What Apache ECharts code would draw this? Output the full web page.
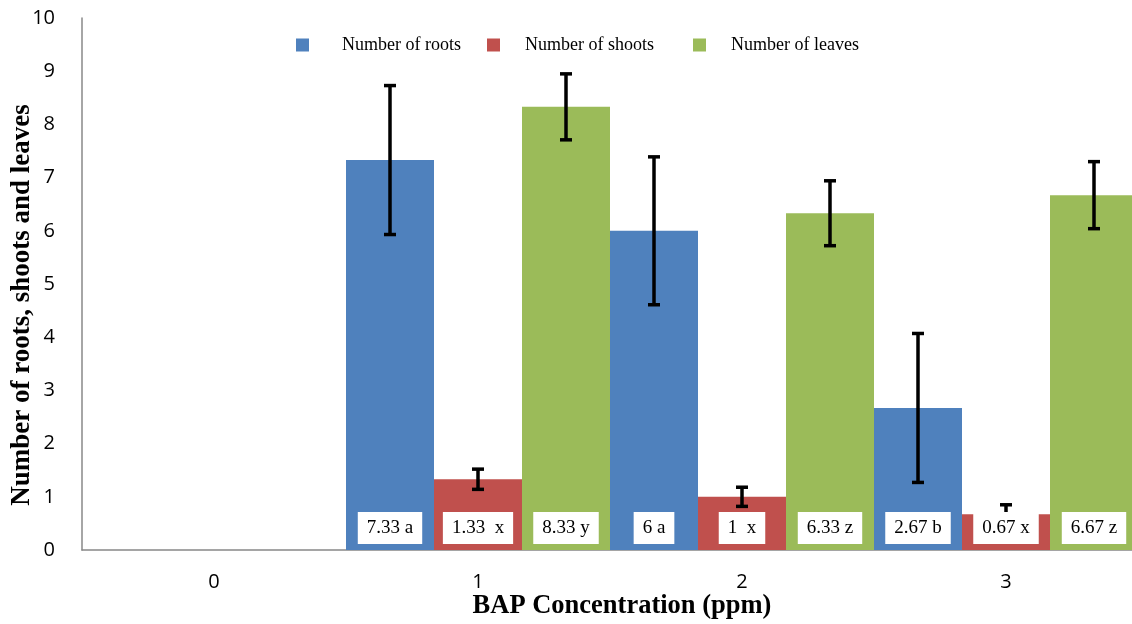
<!DOCTYPE html>
<html><head><meta charset="utf-8">
<script src="https://cdn.jsdelivr.net/npm/echarts@6/dist/echarts.min.js"></script>
<style>html,body{margin:0;padding:0;background:#fff;overflow:hidden}#c{width:1138px;height:624px}</style>
</head><body><div id="c"></div>
<script>
const categories = ['0', '1', '2', '3'];
const seriesNames = ['Number of roots', 'Number of shoots', 'Number of leaves'];
const roots = [0, 7.33, 6, 2.67];
const shoots = [0, 1.33, 1, 0.67];
const leaves = [0, 8.33, 6.33, 6.67];
const rootsErr = [0, 1.4, 1.39, 1.4];
const shootsErr = [0, 0.19, 0.18, 0.18];
const leavesErr = [0, 0.62, 0.61, 0.63];
const rootsLabels = ['', '7.33 a', '6 a', '2.67 b'];
const shootsLabels = ['', '1.33  x', '1  x', '0.67 x'];
const leavesLabels = ['', '8.33 y', '6.33 z', '6.67 z'];
const yTicks = [0, 1, 2, 3, 4, 5, 6, 7, 8, 9, 10];

const colors = ['#4F81BD', '#C0504D', '#9BBB59'];
const values = [roots, shoots, leaves];
const errs = [rootsErr, shootsErr, leavesErr];
const labels = [rootsLabels, shootsLabels, leavesLabels];

const chart = echarts.init(document.getElementById('c'));

function errSeries(k) {
  return {
    type: 'custom', z: 5, silent: true, clip: false,
    data: values[k].map((v, i) => [i, v, errs[k][i]]),
    renderItem: function (params, api) {
      const i = api.value(0), v = api.value(1), e = api.value(2);
      if (!e) return null;
      const band = api.size([1, 0])[0];
      const bw = band / 3;
      const x = api.coord([i, 0])[0] + (k - 1) * bw;
      const yT = api.coord([i, v + e])[1];
      const yB = api.coord([i, v - e])[1];
      const cap = 6;
      const st = { stroke: '#000', lineWidth: 3.5 };
      return { type: 'group', children: [
        { type: 'line', shape: { x1: x, y1: yT, x2: x, y2: yB }, style: st },
        { type: 'line', shape: { x1: x - cap, y1: yT, x2: x + cap, y2: yT }, style: st },
        { type: 'line', shape: { x1: x - cap, y1: yB, x2: x + cap, y2: yB }, style: st }
      ]};
    }
  };
}
function labelSeries(k) {
  return {
    type: 'custom', z: 8, silent: true, clip: false,
    data: labels[k].map((t, i) => [i, 0, t]),
    renderItem: function (params, api) {
      const i = api.value(0);
      const t = labels[k][i];
      if (!t) return null;
      const band = api.size([1, 0])[0];
      const bw = band / 3;
      const x = api.coord([i, 0])[0] + (k - 1) * bw;
      const y0 = api.coord([i, 0])[1];
      return { type: 'text', x: x, y: y0 - 6, style: {
        text: t, font: '19px "Liberation Serif", "Times New Roman", serif', fill: '#000',
        align: 'center', verticalAlign: 'bottom', backgroundColor: '#fff', padding: [7, 9, 6, 9]
      }};
    }
  };
}

const barSeries = seriesNames.map((n, k) => ({
  name: n, type: 'bar', z: 2, data: values[k], barGap: '0%', barCategoryGap: '0%',
  itemStyle: { color: colors[k] }
}));

const legendFont = { fontFamily: '"Liberation Serif", "Times New Roman", serif', fontSize: 18, color: '#000' };
const legendPos = [[291, 31, 33], [482, 31, 25], [688, 31, 25]];

chart.setOption({
  animation: false,
  color: colors,
  grid: { left: 82, right: 0, top: 18, bottom: 74 },
  legend: seriesNames.map((n, k) => ({
    data: [n], left: legendPos[k][0], top: legendPos[k][1], itemWidth: 13, itemHeight: 13,
    itemGap: 0, textStyle: Object.assign({ padding: [0, 0, 0, legendPos[k][2] - 5] }, legendFont),
    icon: 'rect', selectedMode: false
  })),
  xAxis: {
    type: 'category', data: categories,
    axisLine: { lineStyle: { color: '#888', width: 1.5 } },
    axisTick: { show: false },
    axisLabel: { fontFamily: '"Open Sans", sans-serif', fontSize: 20, color: '#000', margin: 22 }
  },
  yAxis: {
    type: 'value', min: 0, max: 10, interval: 1,
    axisLine: { show: true, lineStyle: { color: '#888', width: 1.5 } },
    axisTick: { show: false },
    splitLine: { show: false },
    axisLabel: { fontFamily: '"Open Sans", sans-serif', fontSize: 20, color: '#000', margin: 27 }
  },
  graphic: [
    { type: 'text', x: 622, y: 606, style: { text: 'BAP Concentration (ppm)', font: 'bold 26.5px "Liberation Serif", serif', fill: '#000', align: 'center', verticalAlign: 'middle' } },
    { type: 'text', x: 22, y: 305, rotation: Math.PI / 2, style: { text: 'Number of roots, shoots and leaves', font: 'bold 27px "Liberation Serif", serif', fill: '#000', align: 'center', verticalAlign: 'middle' } }
  ],
  series: barSeries.concat([0, 1, 2].map(errSeries), [0, 1, 2].map(labelSeries))
});
</script></body></html>
